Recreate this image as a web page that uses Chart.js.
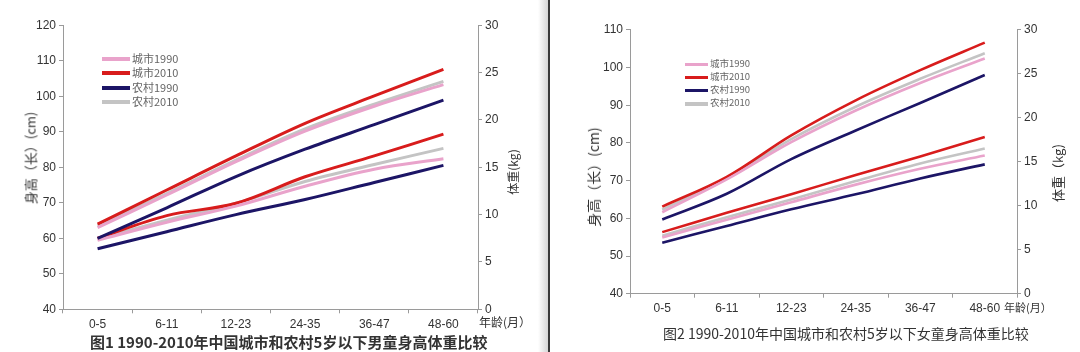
<!DOCTYPE html>
<html>
<head>
<meta charset="utf-8">
<script src="https://cdn.jsdelivr.net/npm/chart.js@4/dist/chart.umd.min.js"></script>
<style>
body { margin: 0; width: 1080px; height: 352px; overflow: hidden; background: #fff; position: relative;
       font-family: "Noto Sans CJK SC", "Liberation Sans", sans-serif; }
canvas { position: absolute; top: 0; }
#c1 { left: 0; }
#c2 { left: 550px; }
.gap { position: absolute; left: 538px; width: 10px; top: 0; height: 352px; background: linear-gradient(to right, #fff, #d6d6d6); }
.sep { position: absolute; left: 548px; width: 2px; top: 0; height: 352px; background: #3a3a3a; }
.t { position: absolute; white-space: nowrap; color: #333; line-height: 1; }
.rot { transform: translate(-50%, -50%) rotate(-90deg); }
.legend { position: absolute; color: #666; }
.legend div { position: relative; white-space: nowrap; line-height: 1; }
.legend span.sw { position: absolute; left: 0; }
</style>
</head>
<body>
<canvas id="c1" width="545" height="352"></canvas>
<div class="gap"></div>
<div class="sep"></div>
<canvas id="c2" width="530" height="352"></canvas>

<div class="t rot" style="left:30px;top:158px;font-size:13px;">身高（长）(cm)</div>
<div class="t rot" style="left:513px;top:172px;font-size:12px;">体重(kg)</div>
<div class="t" style="left:479px;top:316px;font-size:12px;">年龄(月）</div>
<div class="t" style="left:90px;top:334px;font-size:15px;font-weight:bold;">图1 1990-2010年中国城市和农村5岁以下男童身高体重比较</div>

<div class="t rot" style="left:593px;top:177px;font-size:14px;">身高（长）(cm)</div>
<div class="t rot" style="left:1057px;top:173px;font-size:13px;">体重（kg)</div>
<div class="t" style="left:1004px;top:302px;font-size:11px;">年龄(月）</div>
<div class="t" style="left:663px;top:326px;font-size:14px;">图2 1990-2010年中国城市和农村5岁以下女童身高体重比较</div>

<div class="legend" id="lg1" style="left:102px;top:53px;font-size:11px;"></div>
<div class="legend" id="lg2" style="left:685px;top:59px;font-size:9.5px;"></div>

<script>
// age groups (months)
const ageGroups = ['0-5', '6-11', '12-23', '24-35', '36-47', '48-60'];
const seriesNames = ['城市1990', '城市2010', '农村1990', '农村2010'];
const seriesColors = ['#e9a3cb', '#d81c1c', '#1c1566', '#c4c4c4'];

// 图1 男童 身高 (cm)
const boyHeightUrban1990 = [63.0, 72.2, 81.6, 90.2, 97.2, 103.3];
const boyHeightUrban2010 = [64.0, 73.6, 83.2, 92.4, 100.1, 107.6];
const boyHeightRural1990 = [60.0, 68.6, 77.4, 85.1, 92.0, 98.9];
const boyHeightRural2010 = [63.5, 72.6, 82.0, 90.8, 97.8, 104.2];
// 图1 男童 体重 (kg)
const boyWeightUrban1990 = [7.3, 9.2, 10.9, 13.0, 14.8, 15.9];
const boyWeightUrban2010 = [7.5, 9.9, 11.2, 14.0, 16.2, 18.5];
const boyWeightRural1990 = [6.4, 8.2, 10.0, 11.6, 13.4, 15.2];
const boyWeightRural2010 = [7.4, 9.4, 11.2, 13.5, 15.3, 17.0];

// 图2 女童 身高 (cm)
const girlHeightUrban1990 = [61.6, 70.3, 80.2, 88.6, 95.9, 102.4];
const girlHeightUrban2010 = [63.1, 71.0, 82.0, 91.3, 99.3, 106.6];
const girlHeightRural1990 = [59.7, 66.5, 75.7, 83.3, 90.6, 98.0];
const girlHeightRural2010 = [62.3, 70.6, 81.0, 89.6, 97.0, 103.8];
// 图2 女童 体重 (kg)
const girlWeightUrban1990 = [6.4, 8.4, 10.4, 12.4, 14.2, 15.7];
const girlWeightUrban2010 = [7.0, 9.2, 11.3, 13.5, 15.6, 17.8];
const girlWeightRural1990 = [5.8, 7.7, 9.6, 11.3, 13.1, 14.7];
const girlWeightRural2010 = [6.6, 8.7, 10.7, 12.8, 14.8, 16.5];

const axisColor = '#9a9a9a';

function makeDatasets(heights, weights, width) {
    const sets = [];
    heights.forEach((d, i) => sets.push({ label: seriesNames[i], data: d, yAxisID: 'y',
        borderColor: seriesColors[i], borderWidth: width, pointRadius: 0, tension: 0.35, fill: false }));
    weights.forEach((d, i) => sets.push({ label: seriesNames[i], data: d, yAxisID: 'y1',
        borderColor: seriesColors[i], borderWidth: width, pointRadius: 0, tension: 0.35, fill: false }));
    return sets;
}

function makeChart(id, heights, weights, opt) {
    return new Chart(document.getElementById(id), {
        type: 'line',
        data: { labels: ageGroups, datasets: makeDatasets(heights, weights, opt.lineWidth) },
        options: {
            responsive: false,
            animation: false,
            layout: { padding: { top: opt.top, left: 0, right: 0, bottom: 0 } },
            plugins: { legend: { display: false }, tooltip: { enabled: false } },
            scales: {
                x: {
                    offset: true,
                    grid: { offset: true, drawOnChartArea: false, tickLength: 4, color: axisColor },
                    border: { color: axisColor },
                    ticks: { color: '#333', padding: 4, font: { family: 'Liberation Sans', size: 12 }, maxRotation: 0 },
                    afterFit: s => { s.height = opt.xHeight; }
                },
                y: {
                    position: 'left', min: opt.hMin, max: opt.hMax,
                    grid: { drawOnChartArea: false, tickLength: 4, color: axisColor },
                    border: { color: axisColor },
                    ticks: { stepSize: 10, color: '#333', padding: 3, font: { family: 'Liberation Sans', size: 12 } },
                    afterFit: s => { s.width = opt.leftW; }
                },
                y1: {
                    position: 'right', min: 0, max: 30,
                    grid: { drawOnChartArea: false, tickLength: 4, color: axisColor },
                    border: { color: axisColor },
                    ticks: { stepSize: 5, color: '#333', padding: 3, font: { family: 'Liberation Sans', size: 12 } },
                    afterFit: s => { s.width = opt.rightW; }
                }
            }
        }
    });
}

makeChart('c1',
    [boyHeightUrban1990, boyHeightUrban2010, boyHeightRural1990, boyHeightRural2010],
    [boyWeightUrban1990, boyWeightUrban2010, boyWeightRural1990, boyWeightRural2010],
    { top: 25.3, xHeight: 42.7, leftW: 63, rightW: 67, hMin: 40, hMax: 120, lineWidth: 3 });

makeChart('c2',
    [girlHeightUrban1990, girlHeightUrban2010, girlHeightRural1990, girlHeightRural2010],
    [girlWeightUrban1990, girlWeightUrban2010, girlWeightRural1990, girlWeightRural2010],
    { top: 29.8, xHeight: 58.3, leftW: 80, rightW: 63, hMin: 40, hMax: 110, lineWidth: 2.6 });

// legends
function buildLegend(id, swatchW, lineH, thick) {
    const box = document.getElementById(id);
    seriesNames.forEach((name, i) => {
        const row = document.createElement('div');
        row.style.height = lineH + 'px';
        row.style.paddingLeft = (swatchW + 2) + 'px';
        const sw = document.createElement('span');
        sw.className = 'sw';
        sw.style.width = swatchW + 'px';
        sw.style.height = thick + 'px';
        sw.style.top = (lineH / 2 - thick / 2 - 1) + 'px';
        sw.style.background = seriesColors[i];
        row.appendChild(sw);
        row.appendChild(document.createTextNode(name));
        box.appendChild(row);
    });
}
buildLegend('lg1', 28, 14.3, 4);
buildLegend('lg2', 23, 13.1, 3.5);
</script>
</body>
</html>
